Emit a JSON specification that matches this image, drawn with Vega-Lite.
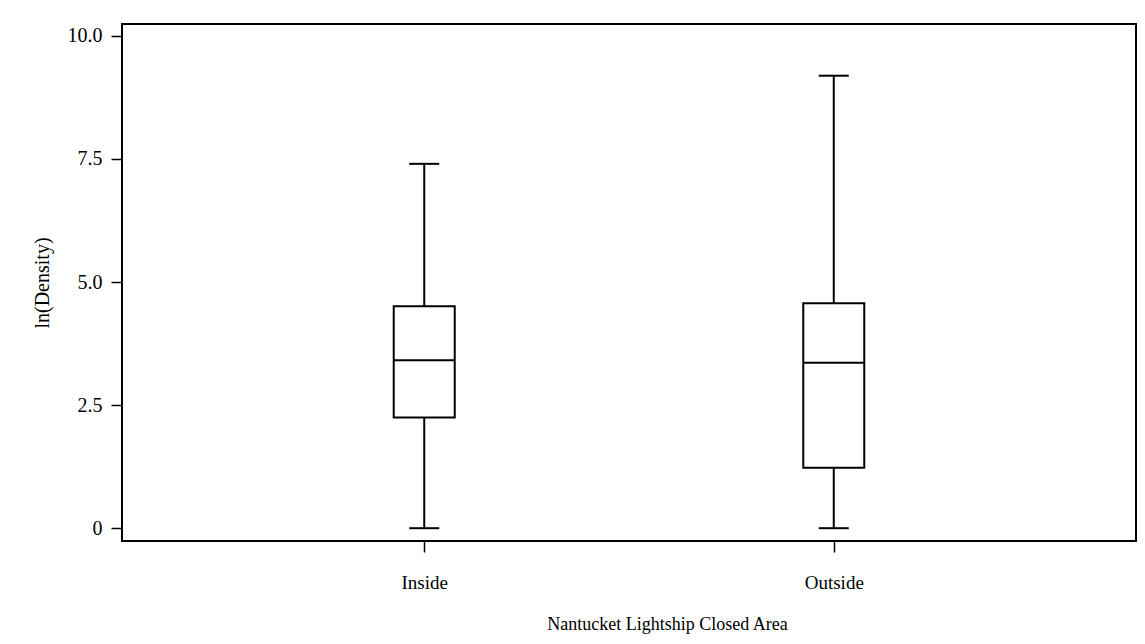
{
  "$schema": "https://vega.github.io/schema/vega-lite/v6.json",
  "autosize": "none",
  "width": 1014,
  "height": 517,
  "padding": {"left": 122, "top": 24, "right": 9, "bottom": 103},
  "background": "white",
  "config": {
    "font": "Liberation Serif",
    "view": {"stroke": "black", "strokeWidth": 2},
    "axis": {
      "domain": false,
      "grid": false,
      "tickColor": "black",
      "tickWidth": 1.5,
      "tickSize": 11,
      "labelFont": "Liberation Serif",
      "labelColor": "black",
      "titleFont": "Liberation Serif",
      "titleColor": "black",
      "titleFontWeight": "normal"
    }
  },
  "data": {
    "values": [
      {"area": "Inside", "lower": 0, "q1": 2.25, "median": 3.41, "q3": 4.51, "upper": 7.4},
      {"area": "Outside", "lower": 0, "q1": 1.23, "median": 3.36, "q3": 4.57, "upper": 9.19}
    ]
  },
  "encoding": {
    "x": {
      "field": "area",
      "type": "nominal",
      "scale": {"type": "point", "padding": 0.738},
      "axis": {
        "title": "Nantucket Lightship Closed Area",
        "labelAngle": 0,
        "labelFontSize": 19,
        "labelPadding": 21,
        "titleFontSize": 18,
        "titlePadding": 23,
        "titleX": 545
      }
    }
  },
  "layer": [
    {
      "mark": {"type": "rule", "color": "black", "strokeWidth": 2},
      "encoding": {
        "y": {
          "field": "lower",
          "type": "quantitative",
          "scale": {"domain": [-0.26, 10.24], "nice": false, "zero": false},
          "axis": {
            "title": "ln(Density)",
            "values": [0, 2.5, 5, 7.5, 10],
            "labelExpr": "datum.value == 0 ? '0' : format(datum.value, '.1f')",
            "labelFontSize": 20,
            "labelPadding": 9,
            "titleFontSize": 20,
            "titlePadding": 15
          }
        },
        "y2": {"field": "upper"}
      }
    },
    {
      "mark": {"type": "bar", "width": 61, "fill": "white", "stroke": "black", "strokeWidth": 2},
      "encoding": {
        "y": {"field": "q1", "type": "quantitative"},
        "y2": {"field": "q3"}
      }
    },
    {
      "mark": {"type": "tick", "color": "black", "opacity": 1, "size": 61, "thickness": 2},
      "encoding": {
        "y": {"field": "median", "type": "quantitative"}
      }
    },
    {
      "mark": {"type": "tick", "color": "black", "opacity": 1, "size": 30, "thickness": 2},
      "encoding": {
        "y": {"field": "upper", "type": "quantitative"}
      }
    },
    {
      "mark": {"type": "tick", "color": "black", "opacity": 1, "size": 30, "thickness": 2},
      "encoding": {
        "y": {"field": "lower", "type": "quantitative"}
      }
    }
  ]
}
